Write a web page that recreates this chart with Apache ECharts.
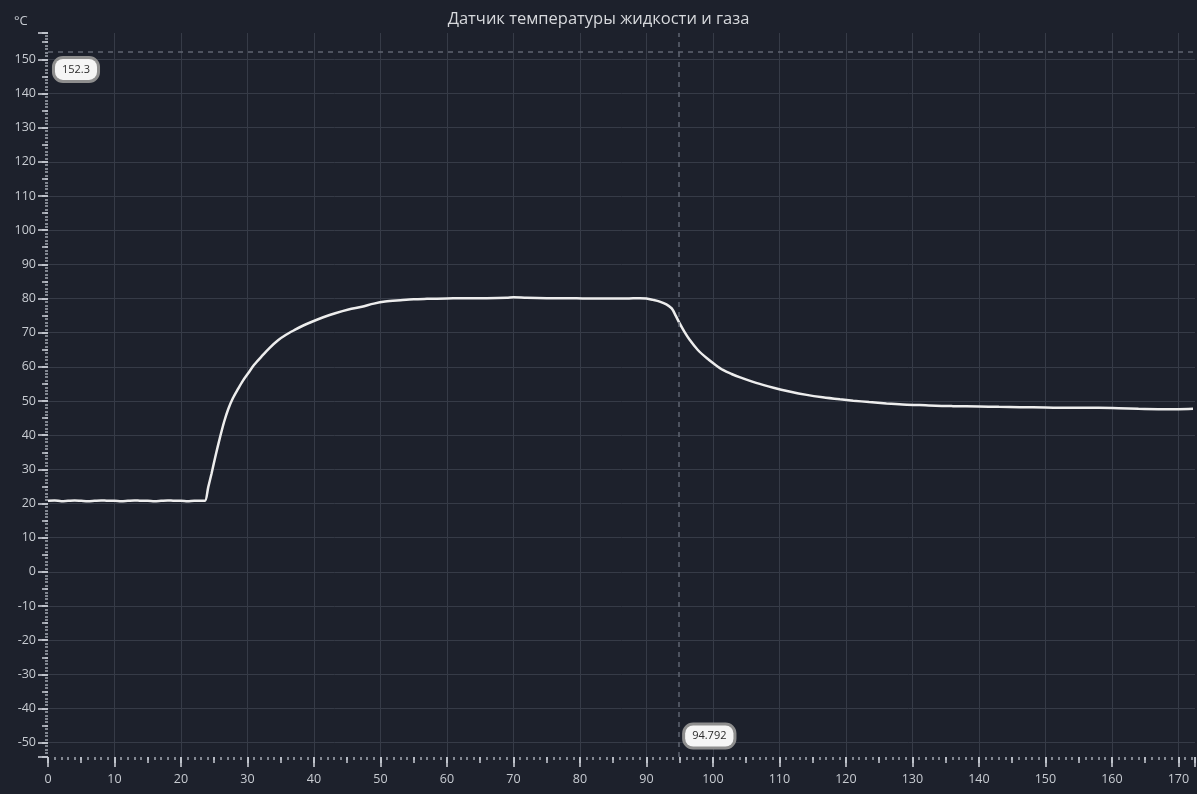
<!DOCTYPE html>
<html>
<head>
<meta charset="utf-8">
<script src="https://cdn.jsdelivr.net/npm/echarts@6/dist/echarts.min.js"></script>
<style>
  html, body { margin: 0; padding: 0; background: #1d212c; }
  #chart { width: 1197px; height: 794px; }
</style>
</head>
<body>
<div id="chart"></div>
<script>
// Time (s) and temperature (°C) samples of the liquid/gas sensor
const timeSec = [
  0, 1, 2, 3, 4, 5, 6, 7, 8, 9, 10, 11, 12, 13, 14, 15, 16, 17, 18, 19, 20, 21, 22, 23, 23.6,
  24.1, 24.6, 25.2, 25.9, 26.5, 27.1, 27.8, 28.6, 29.3, 30.1, 31.0, 32.1, 33.3, 34.6, 35.8,
  37.1, 38.4, 39.7, 41.4, 43.2, 45.2, 47.2, 49.0, 50.7, 53, 55, 57, 60, 63, 66, 69, 70, 72,
  75, 78, 81, 84, 87, 89, 90, 91, 92, 93, 93.8, 94.4, 95.0, 95.7, 96.5, 97.7, 99.1, 100.3,
  101.5, 102.8, 104.1, 106.5, 109.1, 111.5, 114.1, 116.5, 119.1, 121.1, 123.5, 126.1, 128.5,
  131.1, 133.5, 136.1, 140, 143, 146.2, 150, 154, 158, 161, 164, 167, 170, 172.2
];
const tempC = [
  20.8, 20.9, 20.7, 20.8, 20.9, 20.8, 20.7, 20.8, 20.9, 20.8, 20.8, 20.7, 20.8, 20.9, 20.8, 20.8, 20.7, 20.8, 20.9, 20.8, 20.8, 20.7, 20.8, 20.8, 20.8,
  24.8, 28.8, 34.0, 39.6, 44.0, 47.6, 50.8, 53.6, 55.9, 58.1, 60.6, 63.0, 65.5, 67.8, 69.4,
  70.8, 72.1, 73.2, 74.5, 75.7, 76.8, 77.6, 78.5, 79.1, 79.5, 79.8, 79.9, 80.0, 80.1, 80.1, 80.2, 80.4, 80.2,
  80.1, 80.1, 80.0, 80.0, 80.0, 80.1, 80.0, 79.6, 79.1, 78.3, 77.1, 75.0, 72.7, 70.3, 67.9, 65.0, 62.5, 60.7,
  59.1, 57.9, 56.9, 55.3, 53.9, 52.8, 51.8, 51.1, 50.5, 50.1, 49.7, 49.3, 49.0,
  48.8, 48.6, 48.5, 48.4, 48.3, 48.2, 48.1, 48.0, 48.0, 47.9, 47.7, 47.6, 47.6, 47.7
];

// Cursor readouts
const cursorX = 94.792;
const cursorY = 152.3;

// Axis extents
const xMin = 0, xMax = 172.5;
const yMin = -54.18, yMax = 157.7;

const gridColor = '#363b47';
const tickColor = '#c8ccd3';
const minorColor = '#a4a9b2';
const labelColor = '#c8ccd2';
const font = 'Open Sans';

// split lines: hide the ones at the axis extents
const yLineColors = ['rgba(0,0,0,0)'];
for (let v = -50; v <= 150; v += 10) yLineColors.push(gridColor);
yLineColors.push('rgba(0,0,0,0)');
const xLineColors = [];
for (let v = 0; v <= 170; v += 10) xLineColors.push(v === 0 ? 'rgba(0,0,0,0)' : gridColor);
xLineColors.push('rgba(0,0,0,0)');

const chart = echarts.init(document.getElementById('chart'), null, { renderer: 'canvas' });

const boxLabel = {
  show: true,
  position: 'inside',
  backgroundColor: '#f5f5f5',
  borderColor: '#8e8e8e',
  borderWidth: 3,
  borderRadius: 8,
  padding: [5, 7],
  color: '#2b2b2b',
  fontFamily: font,
  fontSize: 11
};

chart.setOption({
  backgroundColor: '#1d212c',
  animation: false,
  title: [
    {
      text: 'Датчик температуры жидкости и газа',
      left: 'center', top: 6,
      textStyle: { color: '#d6d8dc', fontSize: 16.5, fontWeight: 'normal', fontFamily: font }
    },
    {
      text: '°C',
      left: 9, top: 10,
      textStyle: { color: '#c8ccd2', fontSize: 13, fontWeight: 'normal', fontFamily: font }
    }
  ],
  grid: { left: 48, right: 2, top: 33, bottom: 37, containLabel: false },
  xAxis: [
    {
      type: 'value', min: xMin, max: xMax, interval: 10, position: 'bottom',
      axisLine: { show: false, onZero: false },
      axisTick: { show: true, length: 10, lineStyle: { color: tickColor, width: 1.6 } },
      minorTick: { show: true, splitNumber: 10, length: 3, lineStyle: { color: minorColor, width: 1.5 } },
      axisLabel: { color: labelColor, fontSize: 12.5, fontFamily: font, margin: 16, showMaxLabel: false },
      splitLine: { show: true, lineStyle: { color: xLineColors, width: 1 } }
    },
    {
      type: 'value', min: xMin, max: xMax, interval: 5, position: 'bottom',
      axisLine: { show: false, onZero: false },
      axisTick: { show: true, length: 6, lineStyle: { color: tickColor, width: 1.5 } },
      axisLabel: { show: false },
      splitLine: { show: false }
    }
  ],
  yAxis: [
    {
      type: 'value', min: yMin, max: yMax, splitNumber: 21, minInterval: 10, maxInterval: 10, position: 'left',
      axisLine: { show: false, onZero: false },
      axisTick: { show: true, length: 10, lineStyle: { color: tickColor, width: 1.6 } },
      minorTick: { show: true, splitNumber: 10, length: 3, lineStyle: { color: minorColor, width: 1.5 } },
      axisLabel: { color: labelColor, fontSize: 12.5, fontFamily: font, margin: 12, showMinLabel: false, showMaxLabel: false },
      splitLine: { show: true, lineStyle: { color: yLineColors, width: 1 } }
    },
    {
      type: 'value', min: yMin, max: yMax, splitNumber: 42, minInterval: 5, maxInterval: 5, position: 'left',
      axisLine: { show: false, onZero: false },
      axisTick: { show: true, length: 6, lineStyle: { color: tickColor, width: 1.5 } },
      axisLabel: { show: false },
      splitLine: { show: false }
    }
  ],
  series: [
    {
      type: 'line',
      xAxisIndex: 0, yAxisIndex: 0,
      data: timeSec.map((t, i) => [t, tempC[i]]),
      symbol: 'none',
      smooth: 0.3,
      lineStyle: { color: '#ededed', width: 2.5 },
      markLine: {
        silent: true,
        symbol: ['none', 'none'],
        label: { show: false },
        lineStyle: { color: '#5f6470', type: [5, 5], width: 1.5 },
        data: [{ xAxis: cursorX }, { yAxis: cursorY }]
      },
      markPoint: {
        silent: true,
        symbol: 'rect',
        symbolSize: 1,
        itemStyle: { color: 'rgba(0,0,0,0)' },
        data: [
          { coord: [xMin, cursorY], value: cursorY, label: Object.assign({}, boxLabel, { formatter: String(cursorY), offset: [28, 18] }) },
          { coord: [cursorX, yMin], value: cursorX, label: Object.assign({}, boxLabel, { formatter: String(cursorX), offset: [31, -21] }) }
        ]
      }
    }
  ]
});
</script>
</body>
</html>
